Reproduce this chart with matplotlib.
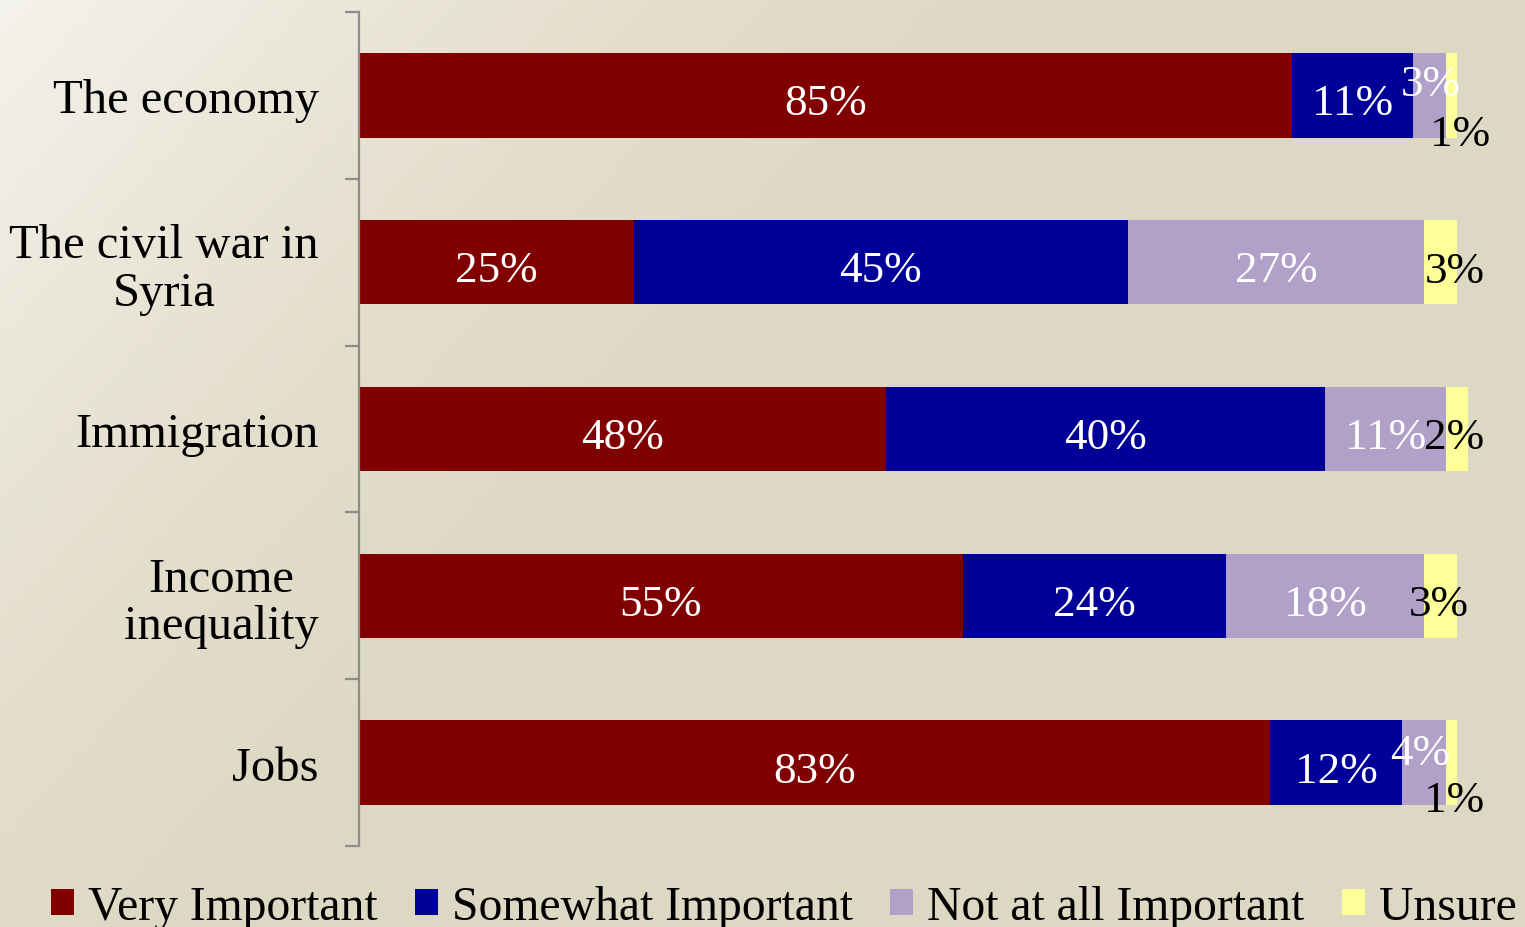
import numpy as np
import matplotlib
matplotlib.use("Agg")
import matplotlib.pyplot as plt
from matplotlib.colors import LinearSegmentedColormap

categories = ["The economy", "The civil war in\nSyria", "Immigration", "Income\ninequality", "Jobs"]
series_names = ["Very Important", "Somewhat Important", "Not at all Important", "Unsure"]
very = [85, 25, 48, 55, 83]
somewhat = [11, 45, 40, 24, 12]
not_at_all = [3, 27, 11, 18, 4]
unsure = [1, 3, 2, 3, 1]
colors = ["#800000", "#000099", "#B1A0C7", "#FFFF99"]

plt.rcParams['font.family'] = ['Liberation Serif', 'DejaVu Serif']

W, H = 1525, 928
fig = plt.figure(figsize=(W/100, H/100), dpi=100)

# background gradient
bg = fig.add_axes([0, 0, 1, 1])
bg.set_axis_off()
yy, xx = np.mgrid[0:1:200j, 0:1:300j]
t = np.clip((xx * 0.9 + yy * 0.5) * 1.6, 0, 1)
cmap = LinearSegmentedColormap.from_list("bgc", ["#F4F2EC", "#E6E1D0", "#DDD8C3"])
bg.imshow(t, cmap=cmap, aspect='auto', extent=[0, 1, 0, 1], origin='upper')

left = 359 / W
bottom = (H - 847) / H
top = (H - 13) / H
ax = fig.add_axes([left, bottom, 1 - left, top - bottom])
ax.patch.set_alpha(0)

n = len(categories)
ypos = np.arange(n)
data = [very, somewhat, not_at_all, unsure]
lefts = np.zeros(n)
bar_h = 0.505
for vals, col, name in zip(data, colors, series_names):
    ax.barh(ypos, vals, left=lefts, height=bar_h, color=col, label=name)
    lefts = lefts + np.array(vals)

ax.set_ylim(n - 0.5, -0.5)
ax.set_xlim(0, (W - 359) / 10.98)

# label offsets in pixels (dx, dy downward) for small segments
small_offsets = {
    (2, 0): (1, -16), (2, 4): (-4, -14),
    (3, 0): (9, 34), (3, 1): (14, 4), (3, 2): (-3, 4), (3, 3): (-2, 4), (3, 4): (3, 33),
}
fs = 32.5
digit_half = 15.5
cum = np.zeros(n)
for si, vals in enumerate(data):
    for i, v in enumerate(vals):
        cx = cum[i] + v / 2
        txt = f"{v}%"
        dx, dy = small_offsets.get((si, i), (0, 3.5))
        color = 'black' if si == 3 else 'white'
        ax.annotate(txt, (cx, i), xytext=(dx * 0.72, -(dy + digit_half) * 0.72),
                    textcoords='offset points', ha='center', va='baseline',
                    color=color, fontsize=fs)
    cum = cum + np.array(vals)

# axes styling
for s in ['top', 'right', 'bottom']:
    ax.spines[s].set_visible(False)
ax.spines['left'].set_color('#8C8C8C')
ax.spines['left'].set_linewidth(1.6)
ax.set_xticks([])
ax.set_yticks(np.arange(n + 1) - 0.5)
ax.set_yticklabels([])
ax.tick_params(axis='y', which='major', length=10, width=1.6, color='#8C8C8C', direction='out')
ax.set_yticks(ypos, minor=True)
ax.set_yticklabels(categories, minor=True, fontsize=35, multialignment='center', linespacing=1.1)
ax.tick_params(axis='y', which='minor', length=0, pad=29)

# legend
handles, labels = ax.get_legend_handles_labels()
leg = fig.legend(handles, labels, loc='center', bbox_to_anchor=(0.514, 20 / H), ncol=4,
                 frameon=False, fontsize=34.3, handlelength=0.48, handleheight=0.48,
                 handletextpad=0.3, columnspacing=0.78, borderaxespad=0)

fig.savefig("out.png", dpi=100)
